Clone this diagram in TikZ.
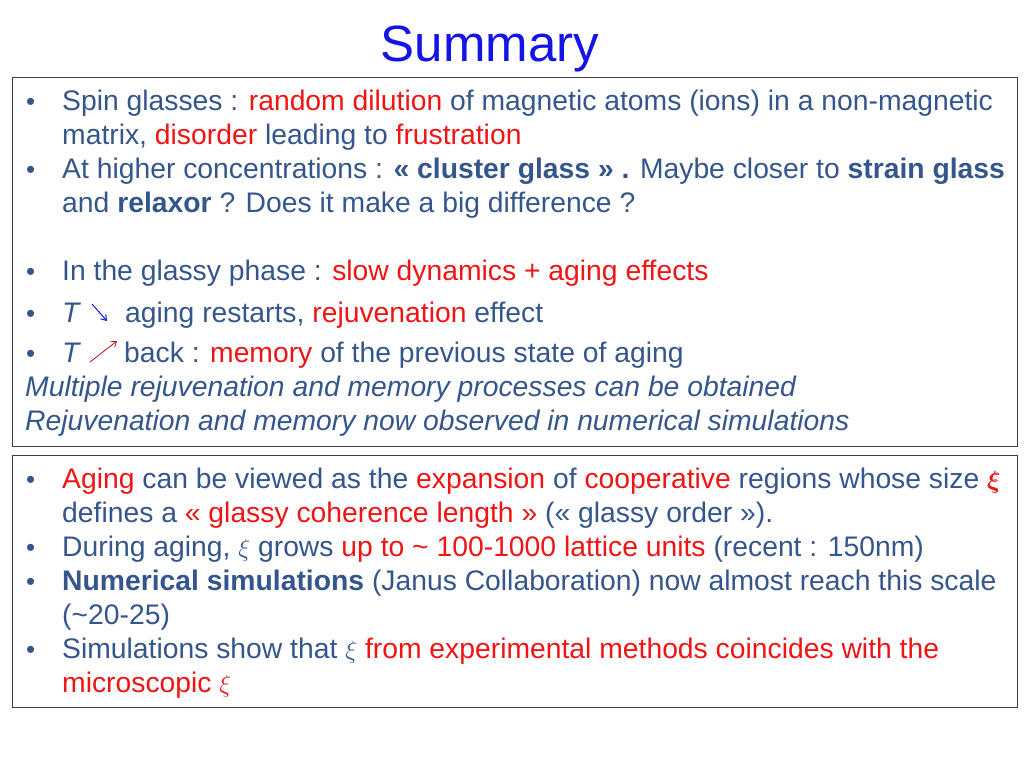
\documentclass[tikz,border=0pt]{standalone}
\usepackage{amsmath}
\usepackage{fontspec}
\setmainfont{Liberation Sans}
\usetikzlibrary{arrows.meta}
\definecolor{tx}{RGB}{52,86,140}
\definecolor{rd}{RGB}{240,20,20}
\definecolor{tb}{RGB}{20,20,230}
\newcommand{\R}[1]{\textcolor{rd}{#1}}
\tikzset{ln/.style={anchor=base west,inner sep=0pt,text=tx,font=\fontsize{28.3}{30}\selectfont},
 bul/.style={anchor=base west,inner sep=0pt,text=tx,font=\fontsize{26}{30}\selectfont},
 frame/.style={draw=black!75,line width=0.8pt}}
\begin{document}
\begin{tikzpicture}[x=1pt,y=-1pt]
\useasboundingbox (0,0) rectangle (1024,768);
\node[text=tb,font=\fontsize{51}{55}\selectfont,anchor=base] (title) at (490,62) {Summary};
\draw[frame] (12,77) rectangle (1017,446);
\draw[frame] (12,455) rectangle (1017,707);
\foreach \y/\n in {110/a,178/b,280/c,322/d,362/e,488/f,556/g,590/h,658/i}{\node[bul] (b\n) at (26,\y) {•};}
\node[ln] (l1) at (62,110) {Spin glasses : \R{random dilution} of magnetic atoms (ions) in a non-magnetic};
\node[ln] (l2) at (62,144) {matrix, \R{disorder} leading to \R{frustration}};
\node[ln] (l3) at (62,178) {At higher concentrations : \textbf{« cluster glass » .} Maybe closer to \textbf{strain glass}};
\node[ln] (l4) at (62,212) {and \textbf{relaxor} ? Does it make a big difference ?};
\node[ln] (l5) at (62,280) {In the glassy phase : \R{slow dynamics + aging effects}};
\node[ln] (l6a) at (62,322) {\textit{T}};
\draw[tb,-{Straight Barb[length=5pt,width=7pt]},line width=1pt] (92,304) -- (107,321);
\node[ln] (l6) at (125,322) {aging restarts, \R{rejuvenation} effect};
\node[ln] (l7a) at (62,362) {\textit{T}};
\draw[rd!80!black,-{Straight Barb[length=5pt,width=7pt]},line width=0.8pt] (90,362) -- (117,341);
\node[ln] (l7) at (124,362) {back : \R{memory} of the previous state of aging};
\node[ln] (l8) at (25,396) {\textit{Multiple rejuvenation and memory processes can be obtained}};
\node[ln] (l9) at (25,430) {\textit{Rejuvenation and memory now observed in numerical simulations}};
\node[ln] (m1) at (62,488) {\R{Aging} can be viewed as the \R{expansion} of \R{cooperative} regions whose size \R{$\boldsymbol{\xi}$}};
\node[ln] (m2) at (62,522) {defines a \R{« glassy coherence length »} (« glassy order »).};
\node[ln] (m3) at (62,556) {During aging, $\xi$ grows \R{up to \textasciitilde{} 100-1000 lattice units} (recent : 150nm)};
\node[ln] (m4) at (62,590) {\textbf{Numerical simulations} (Janus Collaboration) now almost reach this scale};
\node[ln] (m5) at (62,624) {(\textasciitilde20-25)};
\node[ln] (m6) at (62,658) {Simulations show that $\xi$ \R{from experimental methods coincides with the}};
\node[ln] (m7) at (62,692) {\R{microscopic $\xi$}};
\end{tikzpicture}
\end{document}
